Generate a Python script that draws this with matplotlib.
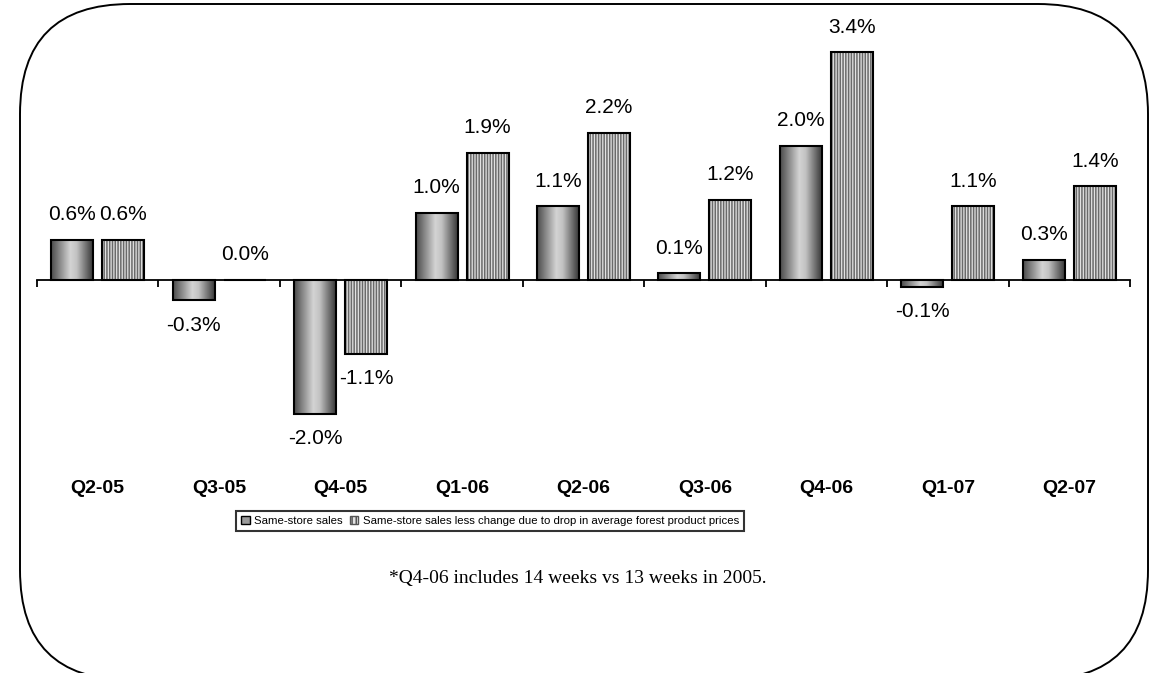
import numpy as np
import matplotlib
matplotlib.use("Agg")
import matplotlib.pyplot as plt
from matplotlib.colors import LinearSegmentedColormap
from matplotlib.patches import FancyBboxPatch, Patch

plt.rcParams['font.family'] = ['Liberation Sans', 'DejaVu Sans']
plt.rcParams['hatch.linewidth'] = 1.1

# Same-store sales by quarter (%)
quarters = ['Q2-05', 'Q3-05', 'Q4-05', 'Q1-06', 'Q2-06', 'Q3-06', 'Q4-06', 'Q1-07', 'Q2-07']
same_store = [0.6, -0.3, -2.0, 1.0, 1.1, 0.1, 2.0, -0.1, 0.3]
same_store_less_forest = [0.6, 0.0, -1.1, 1.9, 2.2, 1.2, 3.4, 1.1, 1.4]
legend_labels = ['Same-store sales',
                 'Same-store sales less change due to drop in average forest product prices']
footnote = '*Q4-06 includes 14 weeks vs 13 weeks in 2005.'

W, H = 1154, 673
fig = plt.figure(figsize=(W / 100, H / 100), dpi=100)

# axes placed in pixel terms: zero line at y=280, 67 px per percentage point
top_px, bot_px, zero_px, ppu = 30, 540, 280, 67.0
ax = fig.add_axes([37 / W, (H - bot_px) / H, (1130 - 37) / W, (bot_px - top_px) / H])
ax.patch.set_visible(False)

x = np.arange(len(quarters))
bw, off = 0.346, 0.21

cyl = LinearSegmentedColormap.from_list('cyl', [(0, '#4a4a4a'), (0.45, '#d4d4d4'),
                                                (0.6, '#c2c2c2'), (1, '#2e2e2e')])
grad = np.linspace(0, 1, 256).reshape(1, -1)

bars1 = ax.bar(x - off, same_store, bw, facecolor='none', edgecolor='black', lw=1.5, zorder=3)
for b in bars1:
    x0, y0 = b.get_x(), b.get_y()
    im = ax.imshow(grad, cmap=cyl, aspect='auto', zorder=2,
                   extent=[x0, x0 + b.get_width(), y0, y0 + b.get_height()])
    im.set_clip_path(b)

# hatched bars: stripes first, outline on top
ax.bar(x + off, same_store_less_forest, bw, facecolor='#e2e2e2', edgecolor='#6a6a6a',
       hatch='|' * 6, lw=0, zorder=2)
ax.bar(x + off, same_store_less_forest, bw, facecolor='none', edgecolor='black', lw=1.5, zorder=3)

# value labels
for xs, vals in ((x - off, same_store), (x + off, same_store_less_forest)):
    for xi, v in zip(xs, vals):
        ax.annotate(f'{v:.1f}%', (xi, v), xytext=(0, 18 if v >= 0 else -18),
                    textcoords='offset points', ha='center', va='center', fontsize=15)

ax.set_xlim(-0.5, len(quarters) - 0.5)
ax.set_ylim(-(bot_px - zero_px) / ppu, (zero_px - top_px) / ppu)

for s in ('top', 'right', 'left'):
    ax.spines[s].set_visible(False)
ax.spines['bottom'].set_position(('data', 0))
ax.spines['bottom'].set_linewidth(1.3)
ax.set_yticks([])
ax.set_xticks(np.arange(len(quarters) + 1) - 0.5)
ax.tick_params(axis='x', direction='out', length=5, width=1.3, labelbottom=False)

# category names under the plot
for xi, q in zip(x, quarters):
    ax.text(xi, -(489 - zero_px) / ppu, q, ha='center', va='center',
            fontsize=14, fontweight='bold')

handles = [Patch(facecolor='#9a9a9a', edgecolor='black', lw=1),
           Patch(facecolor='#e2e2e2', edgecolor='#555555', hatch='|' * 4, lw=1)]
leg = fig.legend(handles, legend_labels, loc='center', ncol=2,
                 bbox_to_anchor=(490 / W, 1 - 521 / H), fontsize=8.2, frameon=True,
                 fancybox=False, handlelength=0.75, handleheight=0.75, handletextpad=0.4,
                 columnspacing=0.6, borderpad=0.45)
leg.get_frame().set_edgecolor('black')
leg.get_frame().set_linewidth(1.5)

fig.text(578 / W, 1 - 578 / H, footnote, ha='center', va='center',
         fontsize=14, family='Liberation Serif')

# rounded outer border, partly running off the canvas
border = FancyBboxPatch((20 / 100, (H - 680) / 100), (1148 - 20) / 100, (680 - 4) / 100,
                        boxstyle='round,pad=0,rounding_size=1.1', transform=fig.dpi_scale_trans,
                        facecolor='none', edgecolor='black', lw=1.4)
fig.add_artist(border)

fig.savefig('out.png', dpi=100)
